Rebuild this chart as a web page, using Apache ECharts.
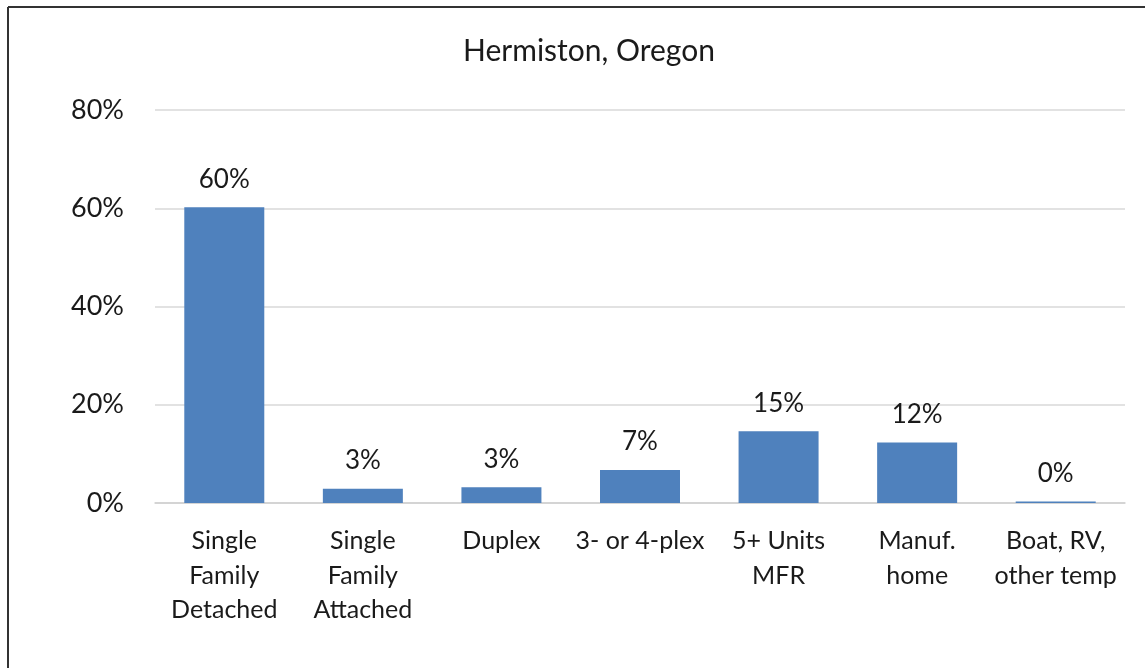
<!DOCTYPE html>
<html>
<head>
<meta charset="utf-8">
<script src="https://cdn.jsdelivr.net/npm/echarts@6/dist/echarts.min.js"></script>
<style>
  html, body { margin: 0; padding: 0; background: #fff; }
  #main { width: 1145px; height: 668px; }
</style>
</head>
<body>
<div id="main"></div>
<script>
// 类别
var categories = ['Single\nFamily\nDetached', 'Single\nFamily\nAttached', 'Duplex', '3- or 4-plex', '5+ Units\nMFR', 'Manuf.\nhome', 'Boat, RV,\nother temp'];
// 百分比数值
var shares = [60.2, 2.9, 3.2, 6.7, 14.6, 12.3, 0.3];
// 纵轴刻度
var yTicks = [0, 20, 40, 60, 80];

var myChart = echarts.init(document.getElementById('main'));
var font = 'Lato, "Open Sans", sans-serif';

var option = {
  backgroundColor: '#fff',
  animation: false,
  title: {
    text: 'Hermiston, Oregon',
    left: 458,
    top: 31,
    textStyle: { fontFamily: font, fontSize: 30, fontWeight: 'normal', color: '#1a1a1a' }
  },
  grid: { left: 155, right: 20, top: 110, bottom: 165 },
  xAxis: {
    type: 'category',
    data: categories,
    axisLine: { lineStyle: { color: '#d0d0d0', width: 1.5 } },
    axisTick: { show: false },
    axisLabel: {
      fontFamily: font, fontSize: 25, color: '#1a1a1a',
      lineHeight: 34.5, margin: 21, interval: 0
    }
  },
  yAxis: {
    type: 'value',
    min: yTicks[0],
    max: yTicks[yTicks.length - 1],
    interval: 20,
    axisLine: { show: false },
    axisTick: { show: false },
    splitLine: { lineStyle: { color: '#d9d9d9', width: 1.5 } },
    axisLabel: {
      fontFamily: font, fontSize: 27, color: '#1a1a1a', margin: 31,
      formatter: function (v) { return v + '%'; }
    }
  },
  series: [{
    type: 'bar',
    data: shares,
    barWidth: 80,
    itemStyle: { color: '#4F81BD' },
    label: {
      show: true,
      position: 'top',
      distance: 15,
      fontFamily: font, fontSize: 26, color: '#1a1a1a',
      formatter: function (p) { return Math.round(p.value) + '%'; }
    }
  }],
  // 外框
  graphic: [
    { type: 'line', shape: { x1: 8, y1: 7, x2: 1145, y2: 7 }, style: { stroke: '#333', lineWidth: 2 } },
    { type: 'line', shape: { x1: 8, y1: 7, x2: 8, y2: 668 }, style: { stroke: '#333', lineWidth: 2 } }
  ]
};

myChart.setOption(option);
</script>
</body>
</html>
